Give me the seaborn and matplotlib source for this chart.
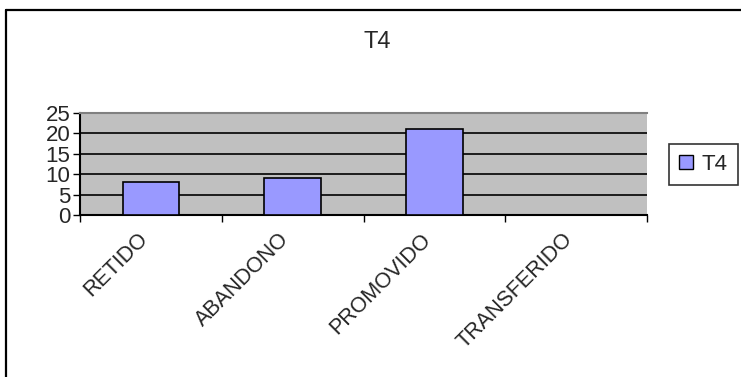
import matplotlib
matplotlib.use("Agg")
import matplotlib.pyplot as plt
import matplotlib.patches as mpatches
import matplotlib.transforms as mtransforms
import seaborn as sns
import pandas as pd

categories = ["RETIDO", "ABANDONO", "PROMOVIDO", "TRANSFERIDO"]
values_t4 = [8, 9, 21, 0]
series_name = "T4"
y_ticks = [0, 5, 10, 15, 20, 25]

sns.set_theme(style="white")
plt.rcParams["font.family"] = ["Liberation Sans", "DejaVu Sans"]

df = pd.DataFrame({"categoria": categories, "valor": values_t4})

fig = plt.figure(figsize=(7.41, 3.77), dpi=100)
fig.patch.set_facecolor("white")

# outer chart frame (open at bottom/right like a clipped chart object)
fig.add_artist(plt.Line2D([6 / 741, 6 / 741], [0, 1 - 10 / 377], color="black", lw=1.6,
                          transform=fig.transFigure))
fig.add_artist(plt.Line2D([6 / 741, 1], [1 - 10 / 377, 1 - 10 / 377], color="black", lw=1.6,
                          transform=fig.transFigure))

ax = fig.add_axes([80 / 741, 1 - 215 / 377, (647 - 80) / 741, (215 - 113) / 377])
ax.set_facecolor("#c0c0c0")

sns.barplot(data=df, x="categoria", y="valor", ax=ax, color="#9999ff",
            width=0.4, edgecolor="black", linewidth=1.2, saturation=1, zorder=3)

ax.set_xlim(-0.5, len(categories) - 0.5)
ax.set_ylim(0, 25)
ax.set_yticks(y_ticks)
ax.set_yticklabels([str(v) for v in y_ticks], fontsize=16)
for v in y_ticks[1:-1]:
    ax.axhline(v, color="black", lw=1.2, zorder=1)

ax.set_xticks(range(len(categories)))
ax.set_xticklabels(categories, rotation=45, ha="right", va="top", rotation_mode="anchor",
                   fontsize=15.5)
ax.tick_params(axis="x", length=0, pad=10)
shift = mtransforms.ScaledTranslation(-14 / 100, 0, fig.dpi_scale_trans)
for lbl in ax.get_xticklabels():
    lbl.set_transform(lbl.get_transform() + shift)
ax.set_xticks([i - 0.5 for i in range(len(categories) + 1)], minor=True)
ax.tick_params(axis="x", which="minor", length=5, width=1, color="black", direction="out", bottom=True)
ax.tick_params(axis="y", length=5, width=1, color="black", direction="out", left=True, pad=2)
ax.set_xlabel("")
ax.set_ylabel("")

ax.spines["top"].set_color("#808080")
ax.spines["top"].set_linewidth(1.5)
ax.spines["right"].set_visible(False)
for side in ["left", "bottom"]:
    ax.spines[side].set_color("black")
    ax.spines[side].set_linewidth(1.5)

fig.text(377 / 741, 1 - 42 / 377, series_name, ha="center", va="center", fontsize=17)

handle = mpatches.Patch(facecolor="#9999ff", edgecolor="black", label=series_name)
leg = fig.legend(handles=[handle], loc="center", bbox_to_anchor=(703.5 / 741, 1 - 164 / 377),
                 fontsize=16, frameon=True, fancybox=False, edgecolor="black",
                 handlelength=0.6, handleheight=0.6, handletextpad=0.4, borderpad=0.45)
leg.get_frame().set_linewidth(1.2)

fig.savefig("out.png", dpi=100, facecolor="white")
